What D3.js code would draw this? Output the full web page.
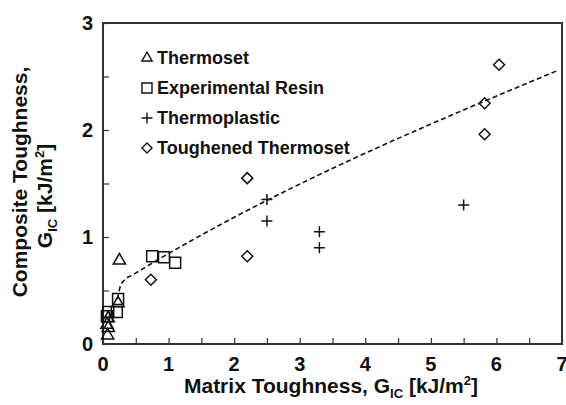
<!DOCTYPE html>
<html>
<head>
<meta charset="utf-8">
<script src="https://cdn.jsdelivr.net/npm/d3@7"></script>
<style>
  body { margin: 0; background: #fff; }
  svg text { font-family: "Liberation Sans", Arial, sans-serif; font-weight: bold; fill: #111; }
</style>
</head>
<body>
<div id="chart"></div>
<script>
// datos
const thermosetX = [0.25, 0.23, 0.08, 0.08, 0.07, 0.06];
const thermosetY = [0.78, 0.38, 0.24, 0.15, 0.08, 0.18];
const resinX = [0.75, 0.93, 1.1, 0.23, 0.21, 0.08, 0.06];
const resinY = [0.82, 0.81, 0.76, 0.42, 0.30, 0.30, 0.26];
const thermoplasticX = [2.5, 2.5, 3.3, 3.3, 5.5, 0.1];
const thermoplasticY = [1.35, 1.15, 1.05, 0.9, 1.3, 0.25];
const toughenedX = [0.73, 2.2, 2.2, 5.82, 5.82, 6.04];
const toughenedY = [0.6, 1.55, 0.82, 2.25, 1.96, 2.61];
const trendX = [0.22, 0.27, 0.33, 0.45, 6.95];
const trendY = [0.42, 0.55, 0.6, 0.645, 2.56];
const xTicks = [0, 1, 2, 3, 4, 5, 6, 7];
const yTicks = [0, 1, 2, 3];
const legendLabels = ["Thermoset", "Experimental Resin", "Thermoplastic", "Toughened Thermoset"];

const W = 566, H = 405;
const margin = { top: 23, right: 4, bottom: 61, left: 103 };
const width = W - margin.left - margin.right;
const height = H - margin.top - margin.bottom;

const svg = d3.select("#chart").append("svg")
    .attr("width", W).attr("height", H);
const g = svg.append("g").attr("transform", `translate(${margin.left},${margin.top})`);

const x = d3.scaleLinear().domain([0, 7]).range([0, width]);
const y = d3.scaleLinear().domain([0, 3]).range([height, 0]);

// ticks menores cada 0.5, hacia dentro
const axisColor = "#333";
g.append("g")
    .attr("transform", `translate(0,${height})`)
    .call(d3.axisBottom(x).tickValues(d3.range(0, 7.01, 0.5)).tickSize(-6).tickFormat(""))
    .call(a => a.select(".domain").remove())
    .selectAll("line").attr("stroke", axisColor).attr("stroke-width", 1.2);
g.append("g")
    .call(d3.axisLeft(y).tickValues(d3.range(0, 3.01, 0.5)).tickSize(-6).tickFormat(""))
    .call(a => a.select(".domain").remove())
    .selectAll("line").attr("stroke", axisColor).attr("stroke-width", 1.2);

// marco
g.append("rect")
    .attr("x", 0).attr("y", 0).attr("width", width).attr("height", height)
    .attr("fill", "none").attr("stroke", axisColor).attr("stroke-width", 2);

// etiquetas de ticks
g.selectAll(".xlab").data(xTicks).enter().append("text")
    .attr("x", d => x(d)).attr("y", height + 27)
    .attr("text-anchor", "middle").style("font-size", "20px")
    .text(d => d);
g.selectAll(".ylab").data(yTicks).enter().append("text")
    .attr("x", -10).attr("y", d => y(d) + 7)
    .attr("text-anchor", "end").style("font-size", "20px")
    .text(d => d);

// títulos de ejes
function titulo(sel, prefijo) {
    sel.append("tspan").text(prefijo);
    sel.append("tspan").text("IC").style("font-size", "13px").attr("dy", 5);
    sel.append("tspan").text(" [kJ/m").attr("dy", -5);
    sel.append("tspan").text("2").style("font-size", "13px").attr("dy", -8);
    sel.append("tspan").text("]").attr("dy", 8);
}

const xt = svg.append("text")
    .attr("x", 331).attr("y", 393)
    .attr("text-anchor", "middle").style("font-size", "21px");
titulo(xt, "Matrix Toughness, G");

const yt = svg.append("g").attr("transform", "rotate(-90)");
yt.append("text")
    .attr("x", -182).attr("y", 27)
    .attr("text-anchor", "middle").style("font-size", "21px")
    .text("Composite Toughness,");
const yt2 = yt.append("text")
    .attr("x", -196).attr("y", 52)
    .attr("text-anchor", "middle").style("font-size", "21px");
titulo(yt2, "G");

// línea de tendencia
const trend = trendX.map((v, i) => [v, trendY[i]]);
g.append("path")
    .datum(trend)
    .attr("d", d3.line().x(d => x(d[0])).y(d => y(d[1])).curve(d3.curveMonotoneX))
    .attr("fill", "none").attr("stroke", "#111").attr("stroke-width", 1.6)
    .attr("stroke-dasharray", "5,3");

// formas de los marcadores
function shape(tipo, s) {
    if (tipo === 0) return d3.symbol().type(d3.symbolTriangle).size(s * s * 0.45)();
    if (tipo === 1) return `M${-s / 2},${-s / 2}H${s / 2}V${s / 2}H${-s / 2}Z`;
    if (tipo === 2) return `M${-s / 2},0H${s / 2}M0,${-s / 2}V${s / 2}`;
    const r = s * 0.5;
    return `M0,${-r}L${r},0L0,${r}L${-r},0Z`;
}

const series = [
    { xs: thermosetX, ys: thermosetY, tipo: 0, size: 12 },
    { xs: resinX, ys: resinY, tipo: 1, size: 11 },
    { xs: thermoplasticX, ys: thermoplasticY, tipo: 2, size: 11 },
    { xs: toughenedX, ys: toughenedY, tipo: 3, size: 11 }
];

series.forEach(s => {
    g.selectAll(null)
        .data(s.xs.map((v, i) => [v, s.ys[i]]))
        .enter().append("path")
        .attr("transform", d => `translate(${x(d[0])},${y(d[1])})`)
        .attr("d", shape(s.tipo, s.size))
        .attr("fill", "none").attr("stroke", "#111").attr("stroke-width", 1.5);
});

// leyenda
const legend = svg.append("g").attr("transform", "translate(147,58)");
legendLabels.forEach((lab, i) => {
    const row = legend.append("g").attr("transform", `translate(0,${i * 30})`);
    row.append("path")
        .attr("d", shape(i, i === 2 ? 11 : 10))
        .attr("fill", "none").attr("stroke", "#111").attr("stroke-width", 1.4);
    row.append("text")
        .attr("x", 10).attr("y", 6)
        .style("font-size", "18px")
        .text(lab);
});
</script>
</body>
</html>
